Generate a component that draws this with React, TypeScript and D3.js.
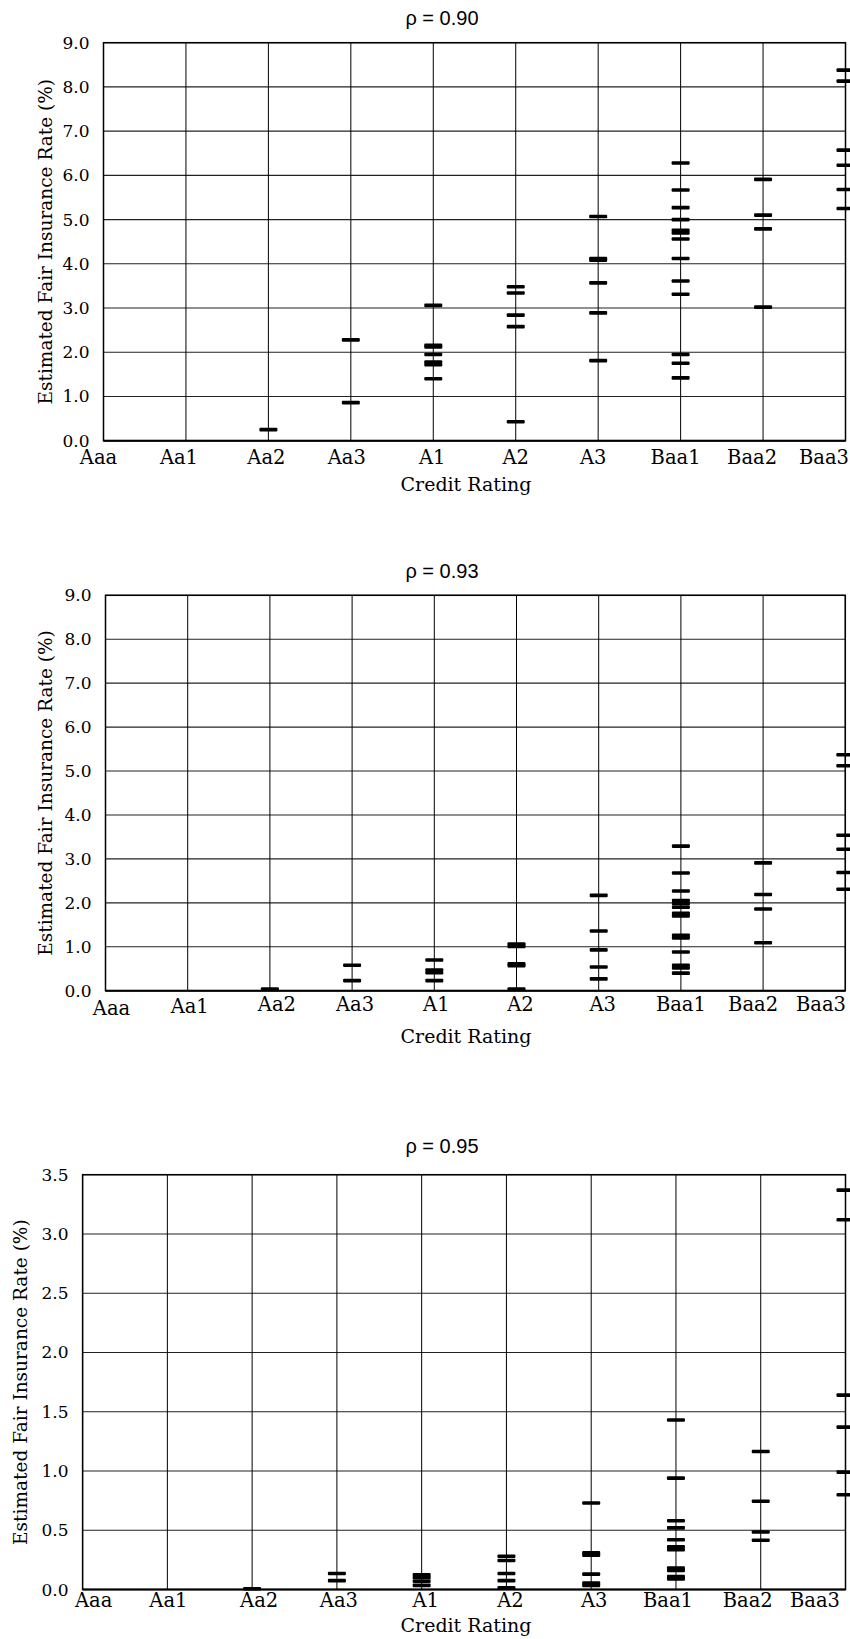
import React from "react";
import * as d3 from "d3";

const categories = ["Aaa", "Aa1", "Aa2", "Aa3", "A1", "A2", "A3", "Baa1", "Baa2", "Baa3"];

const rates090: number[][] = [
  [],
  [],
  [0.25],
  [2.28, 0.86],
  [3.06, 2.16, 2.12, 1.95, 1.78, 1.72, 1.4],
  [3.48, 3.34, 2.84, 2.58, 0.43],
  [5.07, 4.12, 4.08, 3.57, 2.89, 1.81],
  [6.28, 5.67, 5.27, 5.0, 4.76, 4.7, 4.56, 4.12, 3.61, 3.31, 1.95, 1.75, 1.42],
  [5.91, 5.1, 4.79, 3.02],
  [8.38, 8.13, 6.57, 6.23, 5.68, 5.25],
];

const rates093: number[][] = [
  [],
  [],
  [0.04],
  [0.58, 0.23],
  [0.7, 0.47, 0.41, 0.23],
  [1.06, 1.01, 0.61, 0.57, 0.04],
  [2.17, 1.36, 0.93, 0.54, 0.27],
  [3.29, 2.68, 2.27, 2.05, 1.98, 1.9, 1.76, 1.7, 1.26, 1.2, 0.88, 0.58, 0.52, 0.4],
  [2.91, 2.19, 1.86, 1.09],
  [5.37, 5.12, 3.54, 3.22, 2.69, 2.31],
];

const rates095: number[][] = [
  [],
  [],
  [0.006],
  [0.135, 0.075],
  [0.125, 0.1, 0.07, 0.035],
  [0.28, 0.245, 0.135, 0.075, 0.015],
  [0.73, 0.31, 0.29, 0.13, 0.055, 0.035],
  [1.43, 0.94, 0.58, 0.52, 0.42, 0.36, 0.335, 0.18, 0.16, 0.11, 0.09],
  [1.165, 0.745, 0.485, 0.415],
  [3.37, 3.12, 1.64, 1.37, 0.99, 0.8],
];

const ticks90 = [0, 1, 2, 3, 4, 5, 6, 7, 8, 9];
const ticks95 = [0, 0.5, 1, 1.5, 2, 2.5, 3, 3.5];

const titles = ["ρ = 0.90", "ρ = 0.93", "ρ = 0.95"];

interface PanelSpec {
  title: string;
  data: number[][];
  ticks: number[];
  ymax: number;
  left: number;
  right: number;
  top: number;
  bottom: number;
  titleY: number;
  labelY: number;
  creditY: number;
  yTitleX: number;
  tickGap: number;
  labelDx: number[];
  labelDy: number[];
  lastEnd: number;
}

const panels: PanelSpec[] = [
  {
    title: titles[0], data: rates090, ticks: ticks90, ymax: 9,
    left: 103.5, right: 845.5, top: 42.7, bottom: 440.7,
    titleY: 25, labelY: 464, creditY: 491, yTitleX: 52, tickGap: 14,
    labelDx: [-5, -7, -2, -4, -1, 0, -5, -5, -11, 0],
    labelDy: [0, 0, 0, 0, 0, 0, 0, 0, 0, 0],
    lastEnd: 849,
  },
  {
    title: titles[1], data: rates093, ticks: ticks90, ymax: 9,
    left: 105.5, right: 845.3, top: 595.3, bottom: 990.7,
    titleY: 578, labelY: 1011, creditY: 1043, yTitleX: 52, tickGap: 14,
    labelDx: [6, 2, 7, 3, 2, 4, 4, 0, -10, 0],
    labelDy: [4, 2, 0, 0, 0, 0, 0, 0, 0, 0],
    lastEnd: 846,
  },
  {
    title: titles[2], data: rates095, ticks: ticks95, ymax: 3.5,
    left: 82.6, right: 845.5, top: 1174.7, bottom: 1589.5,
    titleY: 1153, labelY: 1607, creditY: 1632, yTitleX: 27, tickGap: 14,
    labelDx: [11, 1, 7, 2, 4, 4, 3, -8, -13, 0],
    labelDy: [0, 0, 0, 0, 0, 0, 0, 0, 0, 0],
    lastEnd: 840,
  },
];

const serif = "'DejaVu Serif', serif";
const sans = "'Liberation Sans', Arial, sans-serif";

function Panel({ p }: { p: PanelSpec }) {
  const x = d3.scaleLinear().domain([0, categories.length - 1]).range([p.left, p.right]);
  const y = d3.scaleLinear().domain([0, p.ymax]).range([p.bottom, p.top]);
  const fmt = d3.format(".1f");
  const markW = 18;
  const markH = 3.6;
  return (
    <g>
      <text x={442} y={p.titleY} textAnchor="middle" fontFamily={sans} fontSize={20} fill="#000">
        {p.title}
      </text>
      {p.ticks.map((t) => (
        <line key={"h" + t} x1={p.left} x2={p.right} y1={y(t)} y2={y(t)} stroke="#222" strokeWidth={1.1} />
      ))}
      {categories.map((c, i) => (
        <line key={"v" + c} x1={x(i)} x2={x(i)} y1={p.top} y2={p.bottom} stroke="#000" strokeWidth={1} />
      ))}
      <rect x={p.left} y={p.top} width={p.right - p.left} height={p.bottom - p.top} fill="none" stroke="#000" strokeWidth={1.5} />
      <line x1={p.left} x2={p.right} y1={p.bottom} y2={p.bottom} stroke="#000" strokeWidth={2} />
      {p.ticks.map((t) => (
        <text key={"t" + t} x={p.left - p.tickGap} y={y(t) + 6} textAnchor="end" fontFamily={serif} fontSize={17} fill="#000">
          {fmt(t)}
        </text>
      ))}
      {categories.map((c, i) => {
        const last = i === categories.length - 1;
        return (
          <text
            key={"c" + c}
            x={last ? p.lastEnd : x(i) + p.labelDx[i]}
            y={p.labelY + p.labelDy[i]}
            textAnchor={last ? "end" : "middle"}
            fontFamily={serif}
            fontSize={19.5}
            fill="#000"
          >
            {c}
          </text>
        );
      })}
      <text x={466} y={p.creditY} textAnchor="middle" fontFamily={serif} fontSize={19} fill="#000">
        Credit Rating
      </text>
      <text
        transform={`translate(${p.yTitleX},${(p.top + p.bottom) / 2}) rotate(-90)`}
        textAnchor="middle"
        fontFamily={serif}
        fontSize={18.5}
        fill="#000"
      >
        Estimated Fair Insurance Rate (%)
      </text>
      {p.data.map((vals, i) =>
        vals.map((v, j) => (
          <rect
            key={"m" + i + "-" + j}
            x={x(i) - markW / 2}
            y={y(v) - markH / 2}
            width={markW}
            height={markH}
            rx={1}
            fill="#000"
          />
        ))
      )}
    </g>
  );
}

export default function App() {
  return (
    <svg
      width={850}
      height={1639}
      viewBox="0 0 850 1639"
      style={{ position: "absolute", left: 0, top: 0, background: "#fff" }}
    >
      <rect x={0} y={0} width={850} height={1639} fill="#fff" />
      {panels.map((p, k) => (
        <Panel key={k} p={p} />
      ))}
    </svg>
  );
}
